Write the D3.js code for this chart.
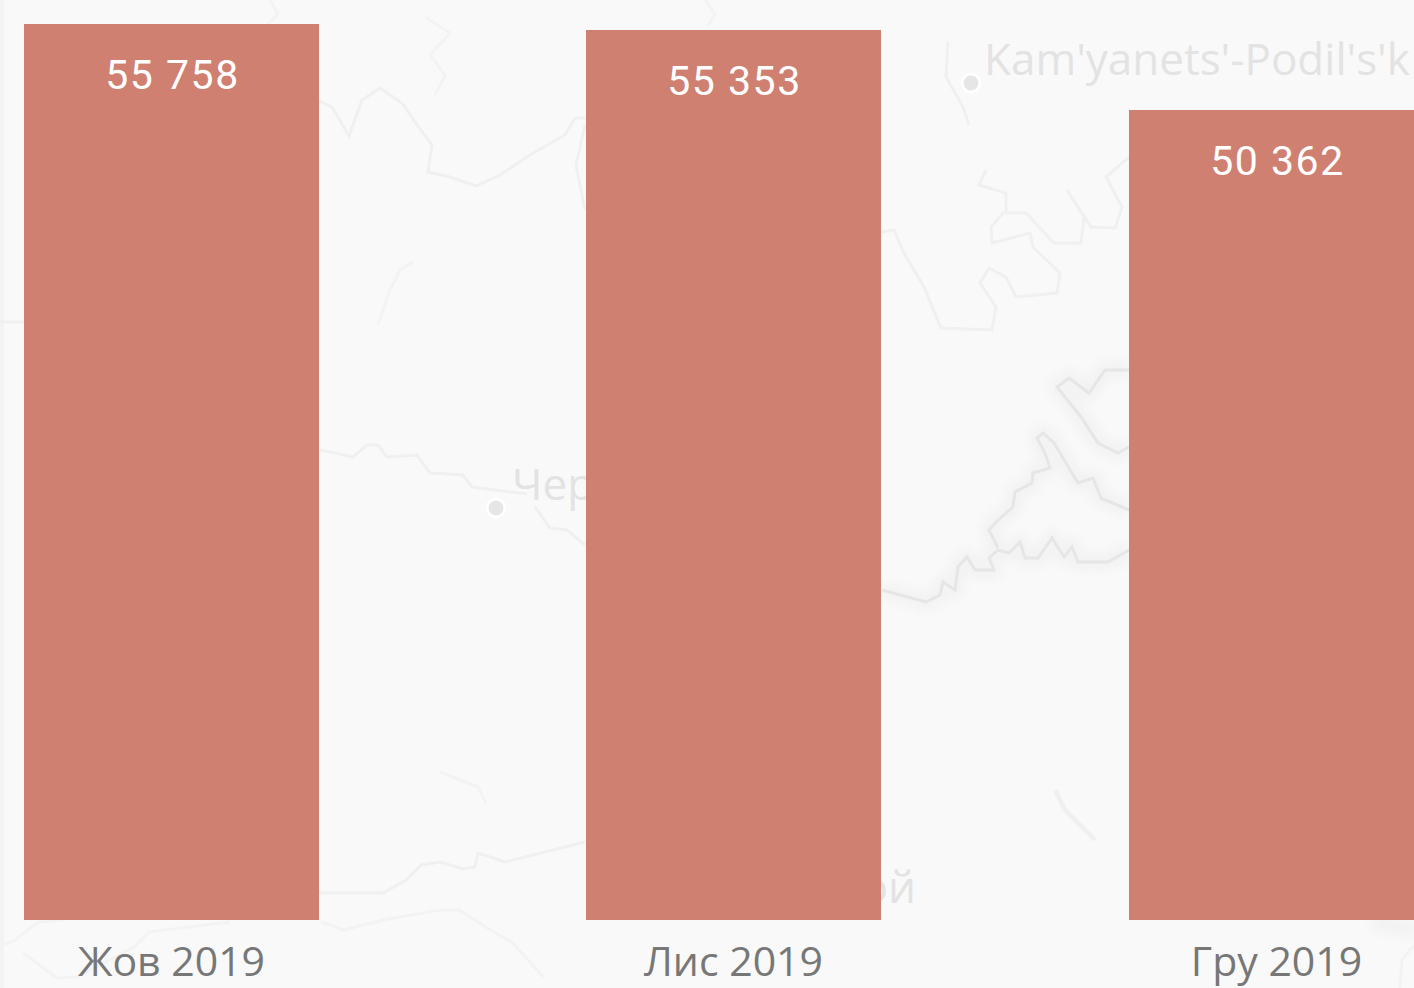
<!DOCTYPE html>
<html>
<head>
<meta charset="utf-8">
<script src="https://cdnjs.cloudflare.com/ajax/libs/d3/7.8.5/d3.min.js"></script>
<style>
html,body{margin:0;padding:0;background:#f9f9f9;overflow:hidden}
svg{display:block}
</style>
</head>
<body>
<svg id="chart" width="1414" height="988"></svg>
<script>
// Chart data
const monthStarts = ["2019-10-01", "2019-11-01", "2019-12-01"];
const monthLabels = ["Жов 2019", "Лис 2019", "Гру 2019"];
const values = [55758, 55353, 50362];

// Faded map backdrop (decorative, page coordinates)
const coastMain = [[882,590],[900,595],[926,602],[940,595],[943,582],[955,590],[958,567],[967,557],[975,570],[994,570],[989,558],[998,550],[1009,553],[1020,542],[1025,558],[1038,558],[1052,538],[1064,557],[1072,547],[1078,562],[1108,562],[1129,550]];
const coastInlet = [[998,548],[989,530],[996,522],[1013,507],[1015,492],[1032,483],[1033,473],[1050,468],[1045,453],[1037,438],[1043,433],[1054,443],[1078,483],[1093,478],[1101,498],[1129,510]];
const lagoon = [[1129,370],[1105,370],[1089,393],[1069,378],[1057,387],[1081,417],[1098,443],[1118,453],[1129,447]];
const riverEast = [[882,232],[894,230],[904,253],[924,287],[941,328],[992,330],[996,307],[980,283],[989,268],[1006,277],[1016,297],[1057,293],[1060,273],[1033,247],[1030,233],[992,243],[991,227],[1003,213],[1026,213],[1054,243],[1081,243],[1084,217],[1067,190],[1091,227],[1115,228],[1122,207],[1106,177],[1129,157]];
const riverEastBranch = [[986,170],[979,185],[1006,193],[1006,213]];
const riverNearDot = [[948,42],[946,77],[963,107],[969,125]];
const riverWest = [[319,101],[332,107],[349,136],[362,100],[380,88],[402,103],[415,122],[432,145],[428,172],[450,177],[476,186],[500,175],[530,155],[565,135],[575,118],[585,118]];
const riverWestEnd = [[585,125],[576,165],[585,210]];
const riverTop = [[425,17],[450,33],[430,55],[445,75],[435,95]];
const riverTopLeft = [[270,0],[278,14],[268,24]];
const riverTopMid = [[705,0],[715,14],[708,26]];
const riverShort = [[378,325],[390,290],[400,270],[413,262]];
const riverMiddle = [[320,450],[353,457],[367,445],[378,445],[387,457],[417,455],[430,473],[463,475],[472,487],[527,494]];
const riverMiddleEnd = [[535,507],[550,528],[567,530],[585,545]];
const shoreSouth = [[319,893],[383,893],[406,880],[421,865],[440,862],[463,869],[475,867],[478,853],[505,862],[585,842]];
const shoreFaint = [[321,922],[344,930],[383,920],[440,910],[459,910],[494,932],[513,943],[543,977]];
const shoreFaintLeft = [[0,946],[15,940],[38,922],[65,920]];
const shoreFaintLow = [[23,953],[57,978],[77,977],[134,947],[149,932],[230,922]];
const scrapShort = [[440,772],[478,787],[486,803]];
const scrapEast = [[1055,790],[1065,810],[1095,840]];
const edgeLine = [[0,322],[24,322]];
const cornerShore = [[1372,922],[1405,928],[1414,935]];
const cornerShoreLow = [[1414,945],[1402,960],[1400,988]];

const width = 1414, height = 988, barWidth = 295, barOffset = 147, baseline = 920;

const svg = d3.select("#chart");
const dates = monthStarts.map(d => d3.isoParse(d + "T00:00:00Z"));

const x = d3.scaleUtc()
  .domain([dates[0], dates[2]])
  .rangeRound([171, 1276]);
const y = d3.scaleLinear()
  .domain([0, 57232])
  .rangeRound([baseline, 0]);

const fmt = d3.formatLocale({decimal: ",", thousands: " ", grouping: [3], currency: ["", ""]}).format(",d");
const line = d3.line().curve(d3.curveLinear);

const defs = svg.append("defs");
defs.append("filter").attr("id", "haloBlur").attr("x", "-20%").attr("y", "-20%").attr("width", "140%").attr("height", "140%")
  .append("feGaussianBlur").attr("stdDeviation", 5);
defs.append("filter").attr("id", "lineBlur").attr("x", "-5%").attr("y", "-5%").attr("width", "110%").attr("height", "110%")
  .append("feGaussianBlur").attr("stdDeviation", 0.6);

// Backdrop
const map = svg.append("g");
map.append("rect").attr("width", width).attr("height", height).attr("fill", "#f9f9f9");
map.append("rect").attr("width", 4).attr("height", height).attr("fill", "#f3f3f3");

const halos = [coastMain, coastInlet, lagoon, cornerShore];
map.append("g").attr("filter", "url(#haloBlur)")
  .selectAll("path").data(halos).join("path")
  .attr("d", line)
  .attr("fill", "none")
  .attr("stroke", "#f3f3f3")
  .attr("stroke-width", 18)
  .attr("stroke-linejoin", "round");

const lineLayer = map.append("g").attr("filter", "url(#lineBlur)");

const strong = [coastMain, coastInlet, lagoon];
lineLayer.selectAll("path.strong").data(strong).join("path")
  .attr("class", "strong")
  .attr("d", line)
  .attr("fill", "none")
  .attr("stroke", "#e6e6e6")
  .attr("stroke-width", 3);

const medium = [riverEast, riverEastBranch, riverWest, riverWestEnd, riverMiddle, riverMiddleEnd, riverNearDot, shoreSouth, edgeLine];
lineLayer.selectAll("path.medium").data(medium).join("path")
  .attr("class", "medium")
  .attr("d", line)
  .attr("fill", "none")
  .attr("stroke", "#f0f0f0")
  .attr("stroke-width", 3);

const faint = [riverTop, riverTopLeft, riverTopMid, riverShort, shoreFaint, shoreFaintLeft, shoreFaintLow, scrapShort, cornerShoreLow];
lineLayer.selectAll("path.faint").data(faint).join("path")
  .attr("class", "faint")
  .attr("d", line)
  .attr("fill", "none")
  .attr("stroke", "#f3f3f3")
  .attr("stroke-width", 3);

lineLayer.append("path").attr("d", line(scrapEast)).attr("fill", "none").attr("stroke", "#f0f0f0").attr("stroke-width", 5);

map.selectAll("circle.city").data([[971, 83], [496, 508]]).join("circle")
  .attr("class", "city")
  .attr("cx", d => d[0]).attr("cy", d => d[1])
  .attr("r", 9)
  .attr("fill", "#e6e6e6")
  .attr("stroke", "#ffffff")
  .attr("stroke-width", 3);

const cityLabels = [
  {t: "Kam'yanets'-Podil's'k", x: 984, y: 75, a: "start"},
  {t: "Чернівці", x: 512, y: 500, a: "start"},
  {t: "Кривой", x: 916, y: 903, a: "end"}
];
map.selectAll("text.cityname").data(cityLabels).join("text")
  .attr("class", "cityname")
  .attr("x", d => d.x).attr("y", d => d.y)
  .attr("text-anchor", d => d.a)
  .attr("font-family", "'Open Sans', sans-serif")
  .attr("font-size", 44)
  .attr("fill", "#e3e3e3")
  .text(d => d.t);

// Bars
const rows = dates.map((d, i) => ({date: d, value: values[i], label: monthLabels[i]}));

svg.append("g").selectAll("rect").data(rows).join("rect")
  .attr("x", d => x(d.date) - barOffset)
  .attr("y", d => y(d.value))
  .attr("width", barWidth)
  .attr("height", d => baseline - y(d.value))
  .attr("fill", "#d08071");

// Value labels
svg.append("g").selectAll("text").data(rows).join("text")
  .attr("x", d => x(d.date) + 1.5)
  .attr("y", d => y(d.value) + 65)
  .attr("text-anchor", "middle")
  .attr("font-family", "Roboto, sans-serif")
  .attr("font-size", 41)
  .attr("letter-spacing", 1.5)
  .attr("fill", "#ffffff")
  .text(d => fmt(d.value));

// Category axis
const axis = d3.axisBottom(x)
  .tickValues(dates)
  .tickFormat((d, i) => monthLabels[i])
  .tickSize(0)
  .tickPadding(0);

const gx = svg.append("g")
  .attr("transform", `translate(0,${baseline})`)
  .call(axis);
gx.select(".domain").remove();
gx.selectAll("text")
  .attr("y", 56)
  .attr("dy", 0)
  .attr("font-family", "'Open Sans', sans-serif")
  .attr("font-size", 41)
  .attr("fill", "#777777");
</script>
</body>
</html>
